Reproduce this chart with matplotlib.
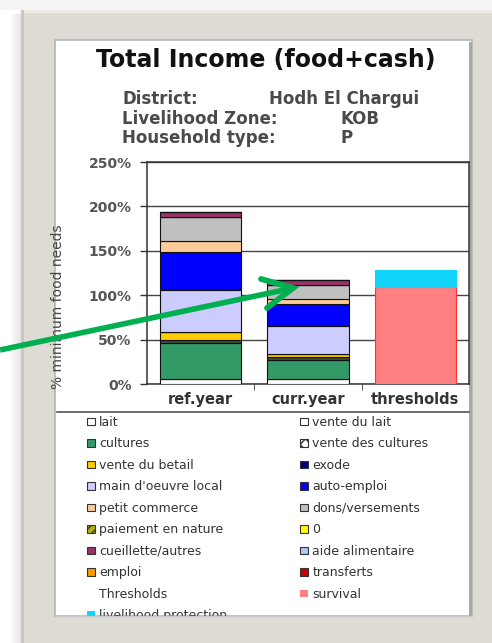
import matplotlib
matplotlib.use("Agg")
import matplotlib.pyplot as plt
from matplotlib.patches import Rectangle, Patch

W, H = 492, 643

# data (% of minimum food needs), stacked bottom -> top
sources = ["lait", "vente du lait", "cultures", "vente des cultures", "vente du betail",
           "exode", "main d'oeuvre local", "auto-emploi", "petit commerce", "dons/versements",
           "paiement en nature", "0", "cueillette/autres", "aide alimentaire", "emploi", "transferts"]
ref_year = [5.6, 0, 40.1, 4.0, 8.6, 0, 47.8, 43.1, 11.6, 27.8, 0, 0, 4.9, 0, 0, 0]
curr_year = [5.6, 0, 21.4, 2.9, 3.8, 0, 31.1, 25.5, 5.6, 16.1, 0, 0, 4.6, 0, 0, 0]
colors = ["#FFFFFF", "#FFFFFF", "#339966", "#3F4A3A", "#FFCC00", "#000080", "#CCCCFF",
          "#0000FF", "#FFCC99", "#C0C0C0", "#B3B300", "#FFFF00", "#993366", "#A6CAF0",
          "#FF9900", "#CC0000"]
legend_colors = ["#FFFFFF", "#FFFFFF", "#339966", "#FFFFFF", "#FFCC00", "#000080", "#CCCCFF",
                 "#0000FF", "#FFCC99", "#C0C0C0", "#B3B300", "#FFFF00", "#993366", "#A6CAF0",
                 "#FF9900", "#CC0000"]
legend_hatches = [None, None, None, "xxx", None, None, None, None, None, None, "////", None,
                  None, None, None, None]

threshold_names = ["survival", "livelihood protection"]
threshold_vals = [109, 19.6]
threshold_colors = ["#FF8080", "#11D4F8"]

categories = ["ref.year", "curr.year", "thresholds"]
yticks = [0, 50, 100, 150, 200, 250]


def frac(x0, y0, x1, y1):
    return [x0 / W, 1 - y1 / H, (x1 - x0) / W, (y1 - y0) / H]


fig = plt.figure(figsize=(W / 100, H / 100), dpi=100, facecolor="#F4F4F4")

# background: slide panel + white chart area
bg = fig.add_axes([0, 0, 1, 1], zorder=0)
bg.set_xlim(0, W)
bg.set_ylim(H, 0)
bg.axis("off")
bg.add_patch(Rectangle((0, 10), 21, H, color="#FFFFFF"))
for i, a in enumerate([0.05, 0.08, 0.12, 0.16, 0.2]):
    bg.add_patch(Rectangle((11 + 2 * i, 14), 2, H, color="#888888", alpha=a, lw=0))
bg.add_patch(Rectangle((21, 10), W, H, facecolor="#DDDBD4", edgecolor="none"))
bg.add_patch(Rectangle((21, 10), W, 3, facecolor="#ECEBE6", edgecolor="none"))
bg.add_patch(Rectangle((21, 10), 3, H, facecolor="#C9C7C0", edgecolor="none"))
bg.add_patch(Rectangle((55, 40), 417, 576, facecolor="#FFFFFF", edgecolor="#B5B5B5", lw=1.2))
bg.add_patch(Rectangle((469, 42), 3, 574, facecolor="#A8A8A8", edgecolor="none"))
bg.plot([57, 469], [411.5, 411.5], color="#555555", lw=1.2)

bg.text(266, 60, "Total Income (food+cash)", ha="center", va="center",
        fontsize=17, fontweight="bold", color="#111111", family="DejaVu Sans")
info = [("District:", "Hodh El Chargui", 269), ("Livelihood Zone:", "KOB", 340),
        ("Household type:", "P", 340)]
for k, (lab, val, xv) in enumerate(info):
    yy = 99 + k * 19.5
    bg.text(122, yy, lab, ha="left", va="center", fontsize=12, fontweight="bold",
            color="#4a4a4a")
    bg.text(xv, yy, val, ha="left", va="center", fontsize=12, fontweight="bold",
            color="#4a4a4a")

# chart
ax = fig.add_axes(frac(147, 162, 469, 384), zorder=1)
ax.set_facecolor("white")
x = range(len(categories))
bw = 0.76
bottom_ref, bottom_cur = 0, 0
for name, rv, cv, c in zip(sources, ref_year, curr_year, colors):
    ax.bar([0, 1], [rv, cv], bottom=[bottom_ref, bottom_cur], width=bw, color=c,
           edgecolor="#111111", linewidth=0.8, zorder=3)
    bottom_ref += rv
    bottom_cur += cv
bt = 0
for name, v, c in zip(threshold_names, threshold_vals, threshold_colors):
    ax.bar([2], [v], bottom=[bt], width=bw, color=c,
           edgecolor="#FF3030" if name == "survival" else c, linewidth=0.8, zorder=3)
    bt += v

ax.set_xlim(-0.5, 2.5)
ax.set_ylim(0, 250)
ax.set_yticks(yticks)
ax.set_yticklabels([f"{v}%" for v in yticks])
ax.set_xticks(list(x))
ax.set_xticklabels(categories)
ax.set_xticks([0.5, 1.5], minor=True)
ax.tick_params(axis="x", which="major", length=0, pad=6, labelsize=10.5, labelcolor="#333333")
ax.tick_params(axis="x", which="minor", length=4, color="#333333", direction="out")
ax.tick_params(axis="y", length=5, width=1, color="#333333", pad=6, labelsize=10,
               labelcolor="#555555")
for lab in ax.get_xticklabels() + ax.get_yticklabels():
    lab.set_fontweight("bold")
ax.yaxis.grid(True, color="#444444", lw=1, zorder=0)
for s in ax.spines.values():
    s.set_color("#333333")
    s.set_linewidth(1.1)
ax.set_ylabel("% minimum food needs", fontsize=10, color="#444444")
ax.yaxis.set_label_coords(-0.255, 0.35)

# legend, two columns filled row by row
handles = [Patch(facecolor=c, edgecolor="#333333", hatch=h, lw=0.8)
           for c, h in zip(legend_colors, legend_hatches)]
labels = list(sources)
handles += [Patch(facecolor="none", edgecolor="none")]
labels += ["Thresholds"]
handles += [Patch(facecolor=c, edgecolor="none") for c in threshold_colors]
labels += threshold_names
left_idx = list(range(0, len(labels), 2))
right_idx = list(range(1, len(labels), 2))
for idx, x0 in [(left_idx, 78), (right_idx, 291)]:
    leg = fig.legend([handles[i] for i in idx], [labels[i] for i in idx],
                     loc="upper left", bbox_to_anchor=(x0 / W, 1 - 407 / H),
                     frameon=False, fontsize=9, labelspacing=0.68, handlelength=0.65,
                     handleheight=0.55, handletextpad=0.35, borderpad=0.2,
                     labelcolor="#333333")
    leg.set_zorder(2)

# overlay: panel bottom edge (clips the legend) and green arrow
top = fig.add_axes([0, 0, 1, 1], zorder=5)
top.set_xlim(0, W)
top.set_ylim(H, 0)
top.axis("off")
top.patch.set_alpha(0)
top.add_patch(Rectangle((24, 616.5), W, 30, facecolor="#DDDBD4", edgecolor="none"))
top.plot([55, 472], [616, 616], color="#C8C8C8", lw=1)
green = "#00B050"
top.plot([0, 291], [350, 288.5], color=green, lw=4, solid_capstyle="butt")
top.plot([261, 293, 267], [279, 288, 308], color=green, lw=4.2,
         solid_joinstyle="miter", solid_capstyle="round")

fig.savefig("out.png", dpi=100, facecolor=fig.get_facecolor())
